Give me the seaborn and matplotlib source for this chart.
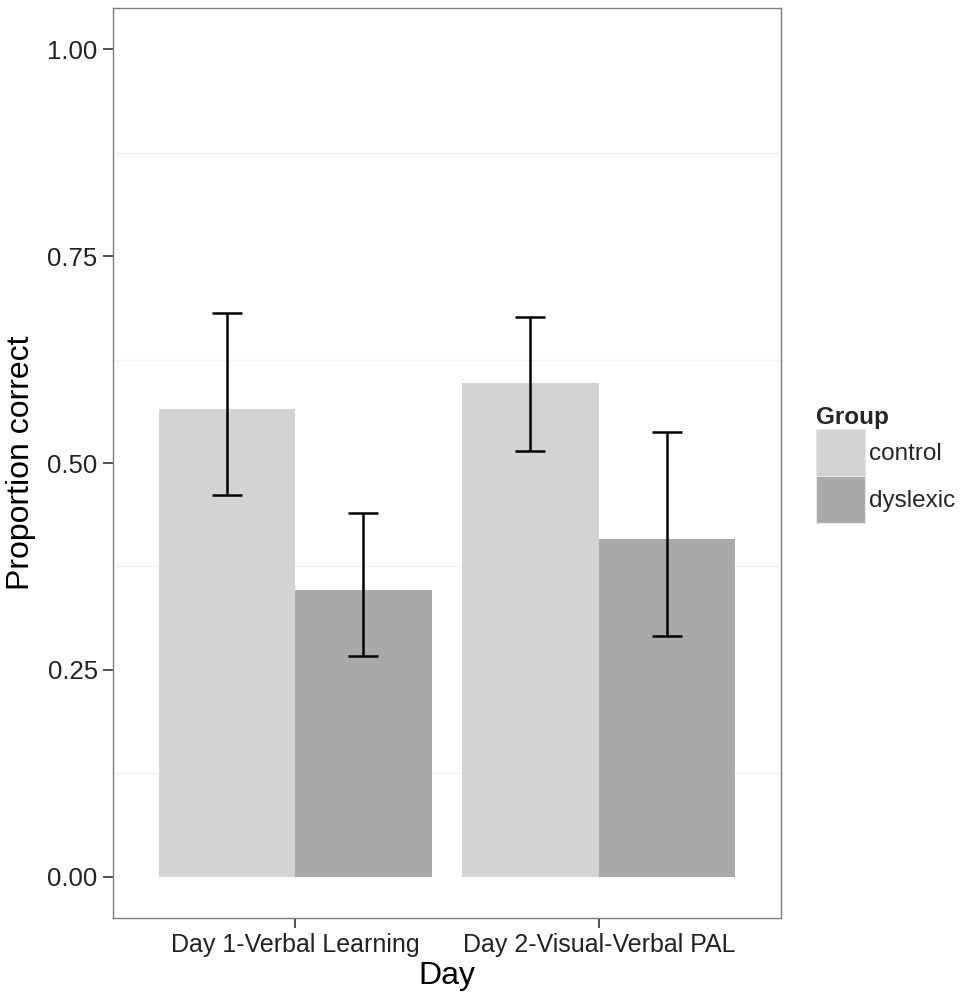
import matplotlib
matplotlib.use("Agg")
import matplotlib.pyplot as plt
import seaborn as sns
import pandas as pd
import numpy as np
from matplotlib.ticker import MultipleLocator

days = ["Day 1-Verbal Learning", "Day 2-Visual-Verbal PAL"]
groups = ["control", "dyslexic"]
control_mean = [0.565, 0.597]
dyslexic_mean = [0.346, 0.408]
control_lo = [0.461, 0.515]
control_hi = [0.681, 0.677]
dyslexic_lo = [0.267, 0.291]
dyslexic_hi = [0.439, 0.537]
yticks = [0.00, 0.25, 0.50, 0.75, 1.00]

df = pd.DataFrame({
    "Day": days + days,
    "Group": ["control"] * 2 + ["dyslexic"] * 2,
    "Proportion": control_mean + dyslexic_mean,
    "lo": control_lo + dyslexic_lo,
    "hi": control_hi + dyslexic_hi,
})

sns.set_theme(style="white")
plt.rcParams["font.family"] = ["Liberation Sans", "DejaVu Sans"]

fig = plt.figure(figsize=(9.62, 10.01), dpi=100)
ax = fig.add_axes([113/962, 83/1001, (781-113)/962, (918-8)/1001])

palette = {"control": "#D3D3D3", "dyslexic": "#A9A9A9"}
sns.barplot(data=df, x="Day", y="Proportion", hue="Group", hue_order=groups,
            order=days, palette=palette, errorbar=None, width=0.9, gap=0,
            saturation=1, linewidth=0, ax=ax, legend=True, zorder=2)

# error bars positioned from the bar patches
bars = [p for p in ax.patches if p.get_height() > 0]
for p in bars:
    cx = p.get_x() + p.get_width() / 2
    h = p.get_height()
    row = df.iloc[(df["Proportion"] - h).abs().argmin()]
    ax.errorbar(cx, h, yerr=[[h - row["lo"]], [row["hi"] - h]], fmt="none",
                ecolor="black", elinewidth=1.8, capsize=11, capthick=1.8, zorder=3)

ax.set_xlim(-0.6, 1.6)
ax.set_ylim(-0.05, 1.05)
ax.set_yticks(yticks)
ax.set_yticklabels([f"{t:.2f}" for t in yticks])
ax.yaxis.set_minor_locator(MultipleLocator(0.125))
ax.grid(False)
for yv in [0.125, 0.375, 0.625, 0.875]:
    ax.axhline(yv, color="#F3F3F3", lw=1.0, zorder=1)

for s in ax.spines.values():
    s.set_color("#7F7F7F")
    s.set_linewidth(1.0)

ax.tick_params(axis="both", which="major", length=7, width=1.2, color="#333333",
               labelsize=18.5, labelcolor="#222222", pad=4, bottom=True, left=True)
ax.tick_params(axis="x", which="major", labelsize=18)
ax.tick_params(axis="y", which="minor", length=0)
ax.set_xlabel("Day", fontsize=23, color="black", labelpad=3)
ax.set_ylabel("Proportion correct", fontsize=23, color="black", labelpad=8)

handles, labels = ax.get_legend_handles_labels()
if ax.legend_:
    ax.legend_.remove()
for hd in handles:
    hd.set_edgecolor("#E6E6E6")
    hd.set_linewidth(0.8)
leg = fig.legend(handles, labels, title="Group", loc="upper left",
                 bbox_to_anchor=(816/962, 1 - 406/1001), frameon=False,
                 fontsize=17.5, title_fontsize=17.5, handlelength=2.0,
                 handleheight=2.6, labelspacing=0.0, handletextpad=0.2,
                 borderpad=0.0, borderaxespad=0.0)
leg.get_title().set_fontweight("bold")
leg._legend_box.align = "left"

fig.savefig("out.png", dpi=100, facecolor="white")
